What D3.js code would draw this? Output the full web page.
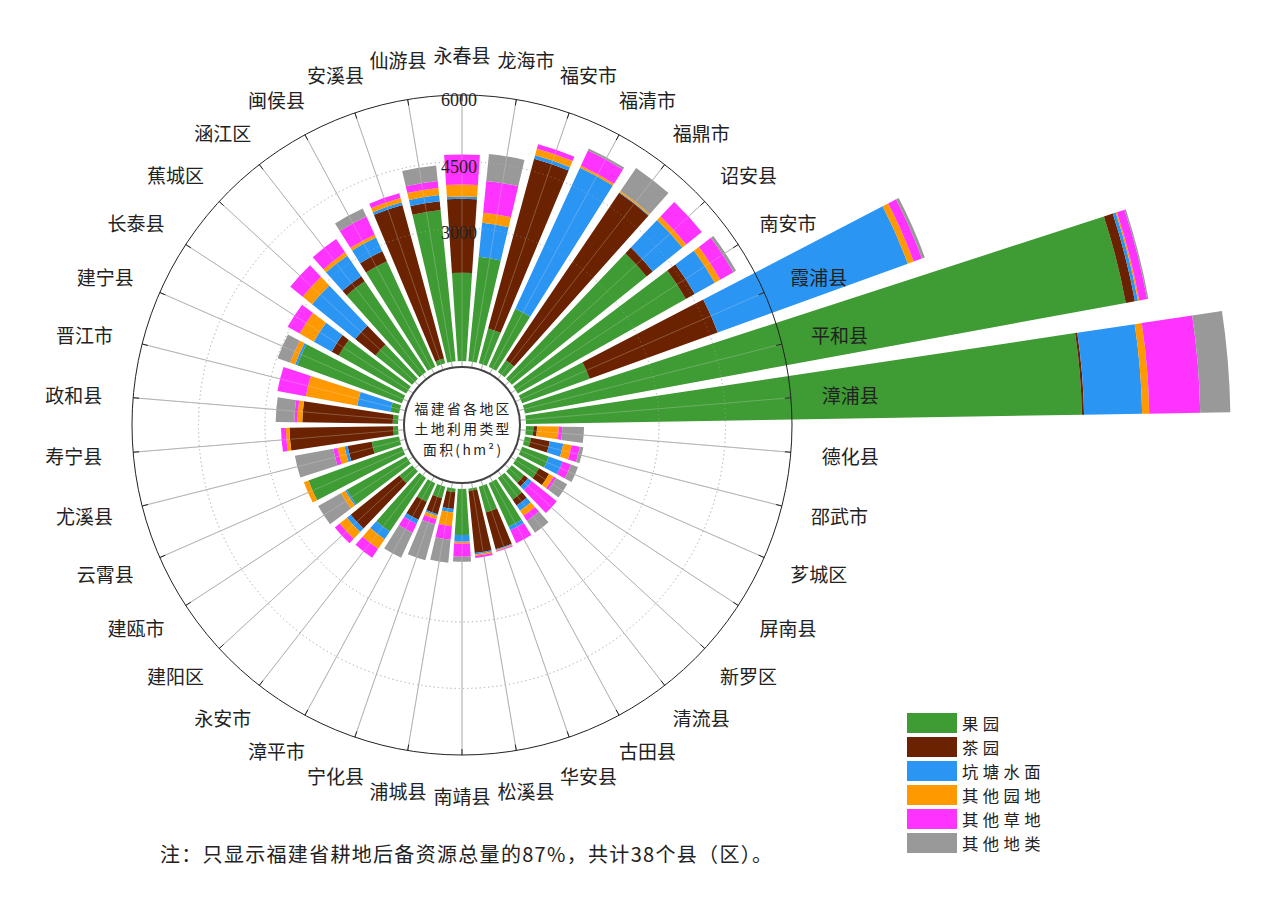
<!DOCTYPE html>
<html><head><meta charset="utf-8">
<script src="https://cdn.jsdelivr.net/npm/d3@7"></script>
<style>body{margin:0;background:#fff}</style>
</head><body>
<svg id="chart" width="1265" height="905"></svg>
<script>
const counties = ["永春县","龙海市","福安市","福清市","福鼎市","诏安县","南安市","霞浦县","平和县","漳浦县","德化县","邵武市","芗城区","屏南县","新罗区","清流县","古田县","华安县","松溪县","南靖县","浦城县","宁化县","漳平市","永安市","建阳区","建瓯市","云霄县","尤溪县","寿宁县","政和县","晋江市","建宁县","长泰县","蕉城区","涵江区","闽侯县","安溪县","仙游县"];
const orchard     = [1990,2370,810,1440,320,3900,4350,1620,13780,12540,170,140,640,550,360,590,1080,600,50,1040,80,270,460,1460,370,1540,2240,630,110,120,200,2510,1750,1060,2470,2620,110,3430];
const tea         = [1670,0,3970,0,4560,180,230,3070,210,50,80,430,0,260,110,160,0,860,1410,0,380,370,450,0,1410,0,0,550,2340,2040,0,0,180,590,140,250,3590,200];
const pond        = [50,770,80,3500,20,860,520,4560,70,1310,0,310,330,0,110,140,90,20,30,150,80,40,100,210,110,40,0,70,0,0,760,50,460,1250,560,340,60,140];
const otherGarden = [270,230,150,50,30,110,140,140,30,160,490,190,0,120,0,140,0,20,30,40,310,80,0,260,210,110,110,160,80,110,1180,120,370,270,90,70,100,160];
const otherGrass  = [680,720,110,380,0,450,340,200,180,1150,80,190,200,60,720,140,320,20,50,300,310,120,220,240,140,0,0,100,110,70,650,0,310,360,360,450,110,160];
const otherLand   = [0,610,0,50,630,0,70,70,30,680,490,80,170,290,0,320,0,0,0,110,520,840,620,0,0,590,0,880,0,420,0,300,0,0,0,200,0,350];
const seriesNames = ["果园","茶园","坑塘水面","其他园地","其他草地","其他地类"];
const seriesColors = ["#3f9b33","#6a2200","#2b95f4","#ff9900","#ff33ff","#999999"];
const rTickValues = [3000,4500,6000];
const rTickLabels = ["3000","4500","6000"];
const centerLines = ["福建省各地区","土地利用类型","面积(hm²)"];
const footnote = "注：只显示福建省耕地后备资源总量的87%，共计38个县（区）。";

const svg = d3.select("#chart");
const cx = 462, cy = 425;
const g = svg.append("g").attr("transform", `translate(${cx},${cy})`);

const seriesArrays = [orchard, tea, pond, otherGarden, otherGrass, otherLand];
const table = counties.map((c, i) => {
  const row = {county: c};
  seriesNames.forEach((s, k) => row[s] = seriesArrays[k][i]);
  return row;
});

const n = counties.length;
const step = 2 * Math.PI / n;
const x = d3.scaleBand().domain(counties)
  .range([-step / 2, 2 * Math.PI - step / 2])
  .paddingInner(0.2).paddingOuter(0.1);
const y = d3.scaleLinear().domain([0, 6000]).range([64, 330]);
const R = y(6000);

const stacked = d3.stack().keys(seriesNames)(table);
const color = d3.scaleOrdinal().domain(seriesNames).range(seriesColors);

// grid below
const gridBelow = g.append("g");
rTickValues.slice(0, -1).forEach(v => {
  gridBelow.append("circle").attr("r", y(v)).attr("fill", "none")
    .attr("stroke", "#9a9a9a").attr("stroke-width", 0.9).attr("stroke-dasharray", "1.2,3");
});
counties.forEach(c => {
  const a = x(c) + x.bandwidth() / 2;
  gridBelow.append("line")
    .attr("x1", 0).attr("y1", 0)
    .attr("x2", R * Math.sin(a)).attr("y2", -R * Math.cos(a))
    .attr("stroke", "#8c8c8c").attr("stroke-width", 0.8);
});

// bars
const arc = d3.arc()
  .innerRadius(d => y(d[0]))
  .outerRadius(d => y(d[1]))
  .startAngle(d => x(d.data.county))
  .endAngle(d => x(d.data.county) + x.bandwidth());

g.append("g").selectAll("g").data(stacked).join("g")
  .attr("fill", d => color(d.key))
  .selectAll("path").data(d => d.filter(e => e[1] > e[0])).join("path")
  .attr("d", arc);

// grid above (faint)
const gridAbove = g.append("g").attr("opacity", 0.35);
rTickValues.slice(0, -1).forEach(v => {
  gridAbove.append("circle").attr("r", y(v)).attr("fill", "none")
    .attr("stroke", "#dddddd").attr("stroke-width", 0.9).attr("stroke-dasharray", "1.2,3");
});
counties.forEach(c => {
  const a = x(c) + x.bandwidth() / 2;
  gridAbove.append("line")
    .attr("x1", 0).attr("y1", 0)
    .attr("x2", R * Math.sin(a)).attr("y2", -R * Math.cos(a))
    .attr("stroke", "#e0e0e0").attr("stroke-width", 0.8);
});

// outer circle and ticks
g.append("circle").attr("r", R).attr("fill", "none").attr("stroke", "#222").attr("stroke-width", 1);
counties.forEach(c => {
  const a = x(c) + x.bandwidth() / 2;
  g.append("line")
    .attr("x1", (R - 6) * Math.sin(a)).attr("y1", -(R - 6) * Math.cos(a))
    .attr("x2", R * Math.sin(a)).attr("y2", -R * Math.cos(a))
    .attr("stroke", "#222").attr("stroke-width", 1);
});

// inner circle
g.append("circle").attr("r", 58).attr("fill", "#fff").attr("stroke", "#444").attr("stroke-width", 2);
const ct = g.append("g").attr("font-family", "'Noto Sans CJK SC', sans-serif")
  .attr("font-size", 13.8).attr("letter-spacing", 2.4).attr("fill", "#222").attr("text-anchor", "middle");
centerLines.forEach((s, i) => {
  ct.append("text").attr("x", 1.2).attr("y", -17.5 + i * 20.5).attr("dominant-baseline", "central").text(s);
});

// radial tick labels
rTickValues.forEach((v, i) => {
  g.append("text").attr("x", -3).attr("y", -(y(v) - 5))
    .attr("text-anchor", "middle").attr("dominant-baseline", "central")
    .attr("font-family", "'Liberation Serif', serif").attr("font-size", 18)
    .attr("fill", "#222").text(rTickLabels[i]);
});

// angular labels
const labR = 361;
const lab = g.append("g").attr("font-family", "'Noto Sans CJK SC', sans-serif")
  .attr("font-size", 19).attr("fill", "#222");
counties.forEach(c => {
  const a = x(c) + x.bandwidth() / 2;
  const t = lab.append("text").attr("text-anchor", "middle").attr("dominant-baseline", "central").text(c);
  const w = t.node().getComputedTextLength();
  const h = 19;
  const px = labR * Math.sin(a) + Math.sin(a) * w / 2;
  const py = -labR * Math.cos(a) - Math.cos(a) * h / 2;
  t.attr("x", px).attr("y", py);
});

// legend
const leg = svg.append("g").attr("transform", "translate(907,713)");
seriesNames.forEach((s, i) => {
  leg.append("rect").attr("x", 0).attr("y", i * 24).attr("width", 50).attr("height", 20).attr("fill", color(s));
  leg.append("text").attr("x", 55).attr("y", i * 24 + 10).attr("dominant-baseline", "central")
    .attr("font-family", "'Noto Sans CJK SC', sans-serif").attr("font-size", 16.4)
    .attr("letter-spacing", 4.4).attr("fill", "#222").text(s);
});

// footnote
svg.append("text").attr("x", 160).attr("y", 853).attr("dominant-baseline", "central")
  .attr("font-family", "'Noto Sans CJK SC', sans-serif").attr("font-size", 20)
  .attr("textLength", 612).attr("lengthAdjust", "spacing").attr("fill", "#222")
  .text(footnote);
</script>
</body></html>
